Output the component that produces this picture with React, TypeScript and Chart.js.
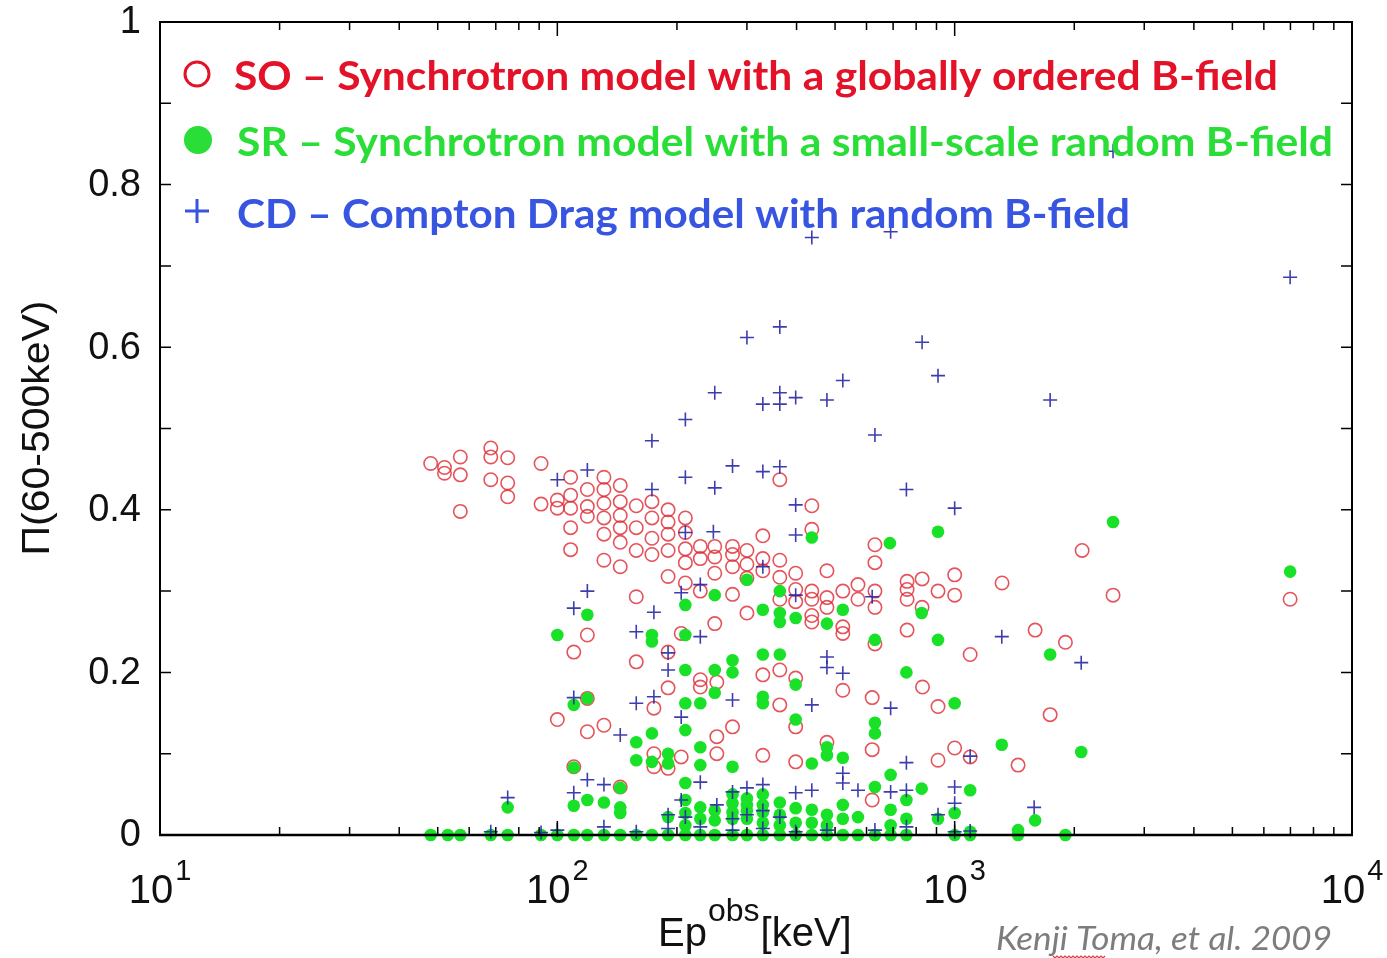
import React, { useEffect, useRef } from "react";
import { Chart, registerables } from "chart.js";
Chart.register(...registerables);

// ---- axis definitions ----
const xTickValues = [10, 100, 1000, 10000];
const xTickExponents = ["1", "2", "3", "4"];
const yTickValues = [0, 0.2, 0.4, 0.6, 0.8, 1];
const yTickLabels = ["0", "0.2", "0.4", "0.6", "0.8", "1"];

// ---- series: [Ep obs (keV), Π(60-500keV)] ----
const soPoints: [number, number][] = [
  [48, 0.457], [52, 0.452], [52, 0.445], [57, 0.465], [57, 0.443], [57, 0.398],
  [68, 0.476], [68, 0.465], [68, 0.437], [75, 0.464], [75, 0.433], [75, 0.416],
  [91, 0.457], [91, 0.407], [100, 0.412], [100, 0.402],
  [108, 0.44], [108, 0.418], [108, 0.402], [108, 0.378], [108, 0.351],
  [119, 0.425], [119, 0.404], [119, 0.392],
  [131, 0.44], [131, 0.425], [131, 0.408], [131, 0.39], [131, 0.37], [131, 0.338],
  [144, 0.43], [144, 0.41], [144, 0.393], [144, 0.378], [144, 0.36], [144, 0.33],
  [158, 0.405], [158, 0.378], [158, 0.35], [158, 0.293],
  [173, 0.41], [173, 0.39], [173, 0.365], [173, 0.345],
  [190, 0.4], [190, 0.385], [190, 0.37], [190, 0.35], [190, 0.318],
  [210, 0.39], [210, 0.372], [210, 0.352], [210, 0.335], [210, 0.31],
  [229, 0.355], [229, 0.34], [229, 0.3],
  [249, 0.355], [249, 0.342], [249, 0.322], [249, 0.26],
  [276, 0.355], [276, 0.345], [276, 0.33], [276, 0.296],
  [300, 0.35], [300, 0.333], [300, 0.316], [300, 0.273],
  [329, 0.368], [329, 0.34], [329, 0.325],
  [363, 0.437], [363, 0.338], [363, 0.317], [363, 0.29],
  [398, 0.322], [398, 0.302], [398, 0.287],
  [437, 0.405], [437, 0.376], [437, 0.3], [437, 0.29], [437, 0.27], [437, 0.262],
  [477, 0.325], [477, 0.292], [477, 0.28],
  [523, 0.3], [523, 0.256], [523, 0.248],
  [571, 0.308], [571, 0.29],
  [630, 0.357], [630, 0.335], [630, 0.3], [630, 0.28], [630, 0.235],
  [759, 0.312], [759, 0.302], [759, 0.29], [759, 0.252],
  [828, 0.315], [828, 0.28], [908, 0.3], [1000, 0.32], [1000, 0.295],
  [1316, 0.31], [2093, 0.35], [2504, 0.295], [6987, 0.29],
  [119, 0.246], [110, 0.225], [158, 0.213], [119, 0.168], [100, 0.142], [119, 0.127],
  [131, 0.135], [110, 0.084], [144, 0.059],
  [205, 0.248], [175, 0.156], [229, 0.191], [229, 0.182], [252, 0.188], [329, 0.197],
  [363, 0.203], [363, 0.16], [398, 0.193], [398, 0.133], [276, 0.133], [252, 0.121],
  [252, 0.1], [205, 0.096], [190, 0.082], [329, 0.098], [398, 0.09], [477, 0.114],
  [523, 0.178], [620, 0.169], [620, 0.105], [620, 0.043], [175, 0.1], [175, 0.084],
  [190, 0.225], [190, 0.181],
  [1594, 0.252], [1900, 0.237], [1094, 0.222], [830, 0.182], [908, 0.158], [1739, 0.148],
  [1000, 0.107], [908, 0.092], [1094, 0.096], [1444, 0.086],
];

const srPoints: [number, number][] = [
  [2504, 0.385], [6987, 0.324], [908, 0.373], [687, 0.359], [437, 0.366],
  [300, 0.314], [363, 0.3], [249, 0.295], [210, 0.283], [119, 0.271],
  [329, 0.277], [363, 0.273], [363, 0.262], [398, 0.267], [477, 0.26], [523, 0.277],
  [100, 0.246], [173, 0.246], [173, 0.238], [210, 0.246],
  [630, 0.24], [826, 0.273], [908, 0.24], [756, 0.2], [1000, 0.162], [1739, 0.222],
  [1314, 0.111], [2082, 0.102],
  [210, 0.203], [249, 0.203], [276, 0.215], [276, 0.2], [249, 0.175], [329, 0.222],
  [363, 0.222], [398, 0.185], [329, 0.17], [329, 0.162], [210, 0.162], [229, 0.162],
  [398, 0.142], [210, 0.129], [173, 0.125], [630, 0.138], [630, 0.125],
  [119, 0.168], [110, 0.16],
  [158, 0.114], [229, 0.108], [477, 0.108], [477, 0.098], [523, 0.095], [158, 0.092],
  [173, 0.09], [190, 0.1], [190, 0.088], [229, 0.086], [276, 0.084], [437, 0.088], [110, 0.083],
  [210, 0.064], [630, 0.059], [826, 0.057], [756, 0.043], [690, 0.074], [1094, 0.055],
  [75, 0.034], [110, 0.036], [119, 0.043], [131, 0.04], [144, 0.058], [144, 0.034],
  [144, 0.027], [210, 0.043], [210, 0.027], [229, 0.034], [249, 0.018], [276, 0.039],
  [300, 0.037], [329, 0.037], [363, 0.025], [398, 0.033], [437, 0.031], [477, 0.025],
  [523, 0.037], [571, 0.022], [190, 0.022], [690, 0.031], [756, 0.02], [908, 0.02],
  [1000, 0.027], [1594, 0.018], [1444, 0.006], [1094, 0.004],
  [276, 0.02], [300, 0.02], [329, 0.015], [363, 0.012], [300, 0.045], [329, 0.05], [276, 0.05],
  [210, 0.012], [249, 0.03], [276, 0.028], [300, 0.03], [329, 0.028], [363, 0.04],
  [398, 0.015], [437, 0.015], [477, 0.012], [523, 0.02], [229, 0.02], [690, 0.012],
  [48, 0], [53, 0], [57, 0], [68, 0], [75, 0], [91, 0], [100, 0], [110, 0], [119, 0],
  [131, 0], [144, 0], [158, 0], [173, 0], [190, 0], [210, 0], [229, 0], [249, 0],
  [276, 0], [300, 0], [329, 0], [363, 0], [398, 0], [437, 0], [477, 0], [523, 0],
  [571, 0], [630, 0], [690, 0], [756, 0], [1000, 0], [1094, 0], [1444, 0], [1900, 0],
];

const cdPoints: [number, number][] = [
  [2504, 0.841], [437, 0.735], [690, 0.742], [6987, 0.686], [363, 0.625], [300, 0.612],
  [828, 0.606], [908, 0.565], [523, 0.559], [249, 0.544], [329, 0.53], [363, 0.544],
  [363, 0.53], [398, 0.538], [477, 0.535], [1739, 0.535], [210, 0.511], [173, 0.485],
  [630, 0.492], [756, 0.425], [1000, 0.402], [119, 0.449], [100, 0.437], [210, 0.44],
  [249, 0.427], [276, 0.454], [329, 0.447], [363, 0.453], [398, 0.406], [398, 0.369],
  [173, 0.425], [210, 0.372], [247, 0.373],
  [1314, 0.244], [2082, 0.212], [119, 0.3], [110, 0.279], [158, 0.25], [229, 0.244],
  [175, 0.274], [205, 0.298], [229, 0.308], [329, 0.33], [398, 0.295], [620, 0.293],
  [690, 0.156], [523, 0.199], [477, 0.219], [477, 0.206], [276, 0.166], [437, 0.16],
  [175, 0.17], [110, 0.169], [158, 0.162], [144, 0.123], [205, 0.145], [190, 0.224],
  [190, 0.203], [1094, 0.097], [756, 0.089],
  [75, 0.046], [119, 0.068], [131, 0.062], [110, 0.052], [229, 0.065], [523, 0.076],
  [523, 0.064], [437, 0.055], [398, 0.052], [329, 0.062], [300, 0.058], [276, 0.053],
  [252, 0.037], [205, 0.043], [190, 0.025], [571, 0.055], [690, 0.053], [756, 0.055],
  [1000, 0.059], [908, 0.025], [1585, 0.034], [1000, 0.039],
  [68, 0.004], [91, 0.003], [100, 0.006], [131, 0.01], [158, 0.004], [190, 0.008],
  [229, 0.01], [276, 0.006], [329, 0.008], [398, 0.004], [477, 0.006], [630, 0.006],
  [756, 0.01], [1000, 0.004], [1094, 0.005],
  [300, 0.025], [329, 0.03], [363, 0.022], [276, 0.02], [210, 0.022],
];

const legendTexts = [
  "SO \u2013 Synchrotron model with a globally ordered B-field",
  "SR \u2013 Synchrotron model with a small-scale random B-field",
  "CD \u2013 Compton Drag model with random B-field",
];
const yTitle = "\u03A0(60-500keV)";
const xTitleParts = ["Ep", "obs", "[keV]"];
const creditText = "Kenji Toma, et al. 2009";

const RED = "rgb(228,18,40)";
const GREEN = "rgb(40,222,55)";
const BLUE = "rgb(55,85,225)";

function fitText(ctx: CanvasRenderingContext2D, text: string, x: number, y: number, width: number, font: string, color: string) {
  ctx.save();
  ctx.font = font;
  ctx.fillStyle = color;
  ctx.textAlign = "left";
  ctx.textBaseline = "alphabetic";
  const w = ctx.measureText(text).width;
  ctx.translate(x, y);
  ctx.scale(width / w, 1);
  ctx.fillText(text, 0, 0);
  ctx.restore();
}

const decorPlugin = {
  id: "decor",
  afterDraw(chart: any) {
    const ctx: CanvasRenderingContext2D = chart.ctx;
    const { left, right, top, bottom } = chart.chartArea;
    const xs = chart.scales.x;
    const ys = chart.scales.y;
    ctx.save();
    ctx.strokeStyle = "#000";
    ctx.lineWidth = 2;
    ctx.strokeRect(left, top, right - left, bottom - top);
    ctx.lineWidth = 2.5;
    ctx.beginPath();
    ctx.moveTo(left - 1, bottom);
    ctx.lineTo(right + 1, bottom);
    ctx.stroke();

    // x ticks (inward, top & bottom)
    ctx.lineWidth = 1.5;
    for (let d = 1; d <= 3; d++) {
      for (let m = 1; m <= 9; m++) {
        const v = m * Math.pow(10, d);
        if (v <= 10 || v >= 10000) continue;
        const px = xs.getPixelForValue(v);
        const len = m === 1 ? 14 : 8;
        ctx.beginPath();
        ctx.moveTo(px, top);
        ctx.lineTo(px, top + len);
        ctx.moveTo(px, bottom);
        ctx.lineTo(px, bottom - len);
        ctx.stroke();
      }
    }
    // y ticks every 0.1
    for (let i = 1; i < 10; i++) {
      const py = ys.getPixelForValue(i / 10);
      ctx.beginPath();
      ctx.moveTo(left, py);
      ctx.lineTo(left + 11, py);
      ctx.moveTo(right, py);
      ctx.lineTo(right - 11, py);
      ctx.stroke();
    }

    // y tick labels
    ctx.fillStyle = "#111";
    ctx.font = "38px 'Liberation Sans', Arial, sans-serif";
    ctx.textAlign = "right";
    ctx.textBaseline = "middle";
    yTickValues.forEach((v, i) => {
      const py = ys.getPixelForValue(v);
      ctx.fillText(yTickLabels[i], 141, py + 1);
    });

    // x tick labels 10^n
    ctx.textBaseline = "alphabetic";
    ctx.textAlign = "left";
    xTickValues.forEach((v, i) => {
      const px = xs.getPixelForValue(v);
      ctx.font = "40px 'Liberation Sans', Arial, sans-serif";
      const wb = ctx.measureText("10").width;
      ctx.font = "29px 'Liberation Sans', Arial, sans-serif";
      const we = ctx.measureText(xTickExponents[i]).width;
      const start = px - (wb + we + 2) / 2;
      ctx.font = "40px 'Liberation Sans', Arial, sans-serif";
      ctx.fillText("10", start, 903);
      ctx.font = "29px 'Liberation Sans', Arial, sans-serif";
      ctx.fillText(xTickExponents[i], start + wb + 2, 880);
    });

    // x title
    ctx.font = "40px 'Liberation Sans', Arial, sans-serif";
    ctx.fillText(xTitleParts[0], 658, 946);
    const wEp = ctx.measureText(xTitleParts[0]).width;
    ctx.font = "32px 'Liberation Sans', Arial, sans-serif";
    ctx.fillText(xTitleParts[1], 658 + wEp + 1, 921);
    const wObs = ctx.measureText(xTitleParts[1]).width;
    ctx.font = "40px 'Liberation Sans', Arial, sans-serif";
    ctx.fillText(xTitleParts[2], 658 + wEp + wObs + 2, 946);

    // y title
    ctx.save();
    ctx.translate(49, 428);
    ctx.rotate(-Math.PI / 2);
    ctx.font = "38px 'Liberation Sans', Arial, sans-serif";
    const wt = ctx.measureText(yTitle).width;
    ctx.scale(255 / wt, 1);
    ctx.textAlign = "center";
    ctx.textBaseline = "alphabetic";
    ctx.fillText(yTitle, 0, 0);
    ctx.restore();

    // legend
    ctx.lineWidth = 3;
    ctx.strokeStyle = RED;
    ctx.beginPath();
    ctx.arc(197, 74, 12, 0, Math.PI * 2);
    ctx.stroke();
    ctx.fillStyle = GREEN;
    ctx.beginPath();
    ctx.arc(198, 140, 14, 0, Math.PI * 2);
    ctx.fill();
    ctx.strokeStyle = BLUE;
    ctx.beginPath();
    ctx.moveTo(185, 211);
    ctx.lineTo(209, 211);
    ctx.moveTo(197, 199);
    ctx.lineTo(197, 223);
    ctx.stroke();
    const lf = "bold 41px Lato, 'Open Sans', sans-serif";
    fitText(ctx, legendTexts[0], 234, 90, 1044, lf, RED);
    fitText(ctx, legendTexts[1], 237, 156, 1096, lf, GREEN);
    fitText(ctx, legendTexts[2], 237, 228, 893, lf, BLUE);

    // credit
    fitText(ctx, creditText, 996, 950, 336, "italic 32px Lato, 'Open Sans', sans-serif", "rgb(125,125,125)");
    ctx.strokeStyle = "rgb(220,60,60)";
    ctx.lineWidth = 1.2;
    ctx.beginPath();
    for (let xx = 1053, k = 0; xx <= 1106; xx += 2, k++) {
      const yy = 956 + (k % 2 === 0 ? 0 : 2);
      if (k === 0) ctx.moveTo(xx, yy);
      else ctx.lineTo(xx, yy);
    }
    ctx.stroke();
    ctx.restore();
  },
};

export default function App() {
  const ref = useRef<HTMLCanvasElement | null>(null);
  useEffect(() => {
    if (!ref.current) return;
    const toXY = (arr: [number, number][]) => arr.map(([x, y]) => ({ x, y }));
    const chart = new Chart(ref.current, {
      type: "scatter",
      data: {
        datasets: [
          {
            label: "CD",
            data: toXY(cdPoints),
            pointStyle: "cross",
            pointRadius: 7,
            pointBorderWidth: 1.6,
            borderColor: "rgba(40,40,165,0.9)",
            backgroundColor: "rgba(40,40,165,0.9)",
            clip: false,
            order: 0,
          },
          {
            label: "SR",
            data: toXY(srPoints),
            pointStyle: "circle",
            pointRadius: 6.3,
            pointBorderWidth: 0,
            borderColor: "rgb(25,225,40)",
            backgroundColor: "rgb(25,225,40)",
            clip: false,
            order: 1,
          },
          {
            label: "SO",
            data: toXY(soPoints),
            pointStyle: "circle",
            pointRadius: 6.7,
            pointBorderWidth: 1.6,
            borderColor: "rgba(222,40,50,0.8)",
            backgroundColor: "rgba(0,0,0,0)",
            clip: false,
            order: 2,
          },
        ],
      } as any,
      options: {
        animation: false,
        responsive: false,
        maintainAspectRatio: false,
        layout: { padding: { left: 0, right: 35, top: 22, bottom: 0 } },
        plugins: { legend: { display: false }, tooltip: { enabled: false } },
        scales: {
          x: {
            type: "logarithmic",
            min: 10,
            max: 10000,
            ticks: { display: false },
            grid: { display: false },
            border: { display: false },
            afterFit: (s: any) => { s.height = 123; },
          },
          y: {
            type: "linear",
            min: 0,
            max: 1,
            ticks: { display: false },
            grid: { display: false },
            border: { display: false },
            afterFit: (s: any) => { s.width = 160; },
          },
        },
      } as any,
      plugins: [decorPlugin],
    });
    return () => chart.destroy();
  }, []);
  return (
    <div style={{ position: "fixed", left: 0, top: 0, width: 1387, height: 958, background: "#fff" }}>
      <canvas ref={ref} width={1387} height={958} style={{ display: "block", width: 1387, height: 958 }} />
    </div>
  );
}
